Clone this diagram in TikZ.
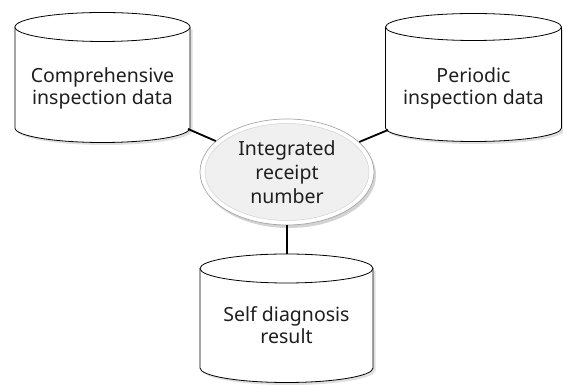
\documentclass[tikz,border=0pt]{standalone}
\usepackage{fontspec}
\setmainfont{Noto Sans}
\usetikzlibrary{shadows,calc,shapes.geometric}
\definecolor{txt}{HTML}{1E1E1E}
\tikzset{
  x=1pt,y=1pt,
  cyl/.style={draw=black,line width=0.8pt,fill=white},
  lbl/.style={align=center,text=txt,font=\fontsize{19.5}{22}\selectfont,inner sep=0pt},
  conn/.style={line width=1.8pt,black},
}
% \mycyl{name}{cx}{rx}{ytop}{ybot}{ry}
\newcommand{\mycyl}[6]{%
  \fill[gray!55,opacity=0.45] (#2-#3+2.5,#4-2.5) -- (#2-#3+2.5,#5-2.5) arc[start angle=180,end angle=360,x radius=#3,y radius=#6] -- (#2+#3+2.5,#4-2.5) -- cycle;
  \draw[cyl] (#2-#3,#4) -- (#2-#3,#5) arc[start angle=180,end angle=360,x radius=#3,y radius=#6] -- (#2+#3,#4);
  \draw[cyl] (#2,#4) ellipse[x radius=#3,y radius=#6];
}
\begin{document}
\begin{tikzpicture}
\useasboundingbox (0,0) rectangle (563,385);
% left cylinder
\mycyl{L}{102.5}{87.5}{358}{257}{14.5}
\node[lbl] (ltxt) at (102.5,297) {Comprehensive\\inspection data};
% right cylinder
\mycyl{R}{473.5}{88}{358}{257}{13.5}
\node[lbl] (rtxt) at (473.5,297) {Periodic\\inspection data};
% bottom cylinder
\mycyl{B}{286.5}{86.5}{116.5}{17}{14.5}
\node[lbl] (btxt) at (286.5,60) {Self diagnosis\\result};
% center ellipse
\node[ellipse,draw=gray!70,line width=0.7pt,fill=white,minimum width=174pt,minimum height=106pt,
      drop shadow={shadow xshift=2pt,shadow yshift=-3pt,opacity=0.35}] (E) at (287,213) {};
\node[ellipse,draw=gray!35,line width=0.5pt,fill=gray!12,minimum width=164pt,minimum height=97pt] (Ein) at (E.center) {};
\node[lbl,font=\fontsize{19.5}{24}\selectfont] (etxt) at (E.center) {Integrated\\receipt\\number};
% connectors
\coordinate (Lc) at (188,256);
\coordinate (Rc) at (388,255);
\coordinate (Bc) at (287,131);
\draw[conn] (Lc) -- (E);
\draw[conn] (Rc) -- (E);
\draw[conn] (Bc) -- (E.south);
\end{tikzpicture}
\end{document}
